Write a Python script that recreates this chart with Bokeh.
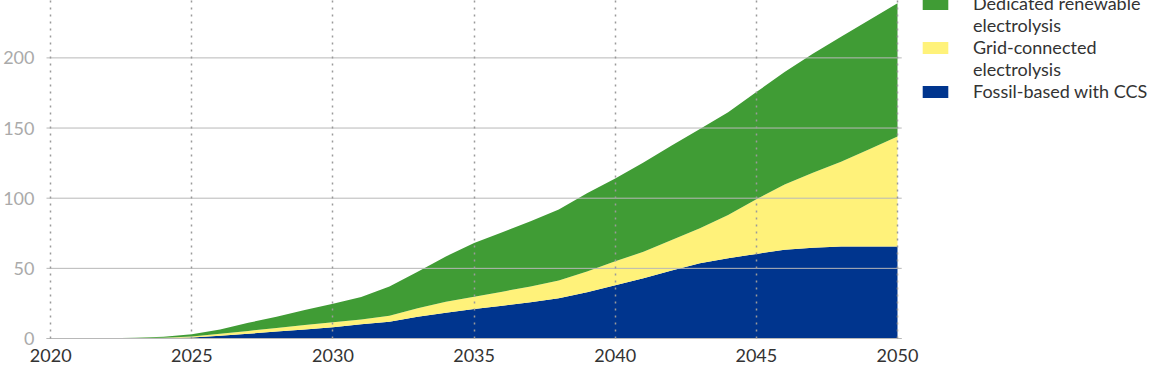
from bokeh.plotting import figure
from bokeh.models import ColumnDataSource, FixedTicker, Legend, LegendItem, Range1d
from bokeh.embed import file_html
from bokeh.resources import INLINE

years = list(range(2020, 2051))
fossil_ccs = [0, 0, 0.05, 0.2, 0.4, 0.8, 2.0, 3.4, 4.9, 6.5, 8.1, 10.2, 12.0, 15.5, 18.4, 21.0,
              23.4, 25.8, 28.7, 33.0, 38.0, 42.9, 48.4, 53.6, 57.2, 60.3, 63.2, 64.7, 65.6, 65.6, 65.6]
grid_connected = [0, 0, 0.05, 0.1, 0.2, 0.7, 1.4, 2.0, 2.6, 3.1, 3.4, 3.4, 4.2, 6.0, 7.8, 8.8,
                  10.0, 11.2, 12.6, 14.7, 17.0, 18.9, 21.8, 25.0, 30.8, 39.0, 46.5, 53.4, 60.4, 69.3, 78.4]
dedicated_renewable = [0, 0, 0.05, 0.2, 0.6, 1.6, 3.1, 5.8, 8.0, 10.7, 13.3, 16.0, 20.8, 26.0, 32.3, 38.2,
                       42.3, 46.6, 50.7, 55.8, 59.0, 63.7, 67.3, 70.8, 73.2, 76.3, 80.3, 84.9, 89.0, 92.1, 95.0]

series_names = ["fossil", "grid", "renew"]
series_labels = ["Fossil-based with CCS", "Grid-connected\nelectrolysis", "Dedicated renewable\nelectrolysis"]
series_colors = ["#00358E", "#FFF27A", "#409C35"]
x_ticks = [2020, 2025, 2030, 2035, 2040, 2045, 2050]
y_ticks = [0, 50, 100, 150, 200]

source = ColumnDataSource(dict(year=years, fossil=fossil_ccs, grid=grid_connected, renew=dedicated_renewable))

FONT = "Lato"

# layout: plot area spans 2019.85..2050.15 over 856 px; frame continues right to hold the legend
X0, X1 = 2019.85, 2050.15
PX_PER_YEAR = 856 / (X1 - X0)
FRAME_W = 1111
x_end = X0 + FRAME_W / PX_PER_YEAR

p = figure(width=1156, height=381, output_backend="svg", toolbar_location=None,
           x_range=Range1d(X0, x_end), y_range=Range1d(0, 252.3),
           min_border_left=37, min_border_right=0, min_border_top=0, min_border_bottom=27)
p.styles = {"margin-top": "-16px", "margin-bottom": "-8px"}
p.outline_line_color = None

renderers = p.varea_stack(series_names, x="year", color=series_colors, source=source)
# invisible renderer used for continuation lines of wrapped legend labels
blank = p.varea(x=[], y1=[], y2=[], fill_color=None, fill_alpha=0)

# vertical dotted grid
p.xgrid.ticker = FixedTicker(ticks=x_ticks)
p.xgrid.grid_line_color = "#9a9a9a"
p.xgrid.grid_line_dash = "2 5"
p.xgrid.grid_line_width = 1.5
p.xgrid.level = "overlay"
# horizontal grid limited to the plot area
p.ygrid.visible = False
p.segment(x0=X0, x1=X1, y0=y_ticks, y1=y_ticks, line_color="#b8b8b8", line_width=1, level="overlay")

# axes
p.xaxis.ticker = FixedTicker(ticks=x_ticks)
p.xaxis.bounds = (X0, X1)
p.xaxis.axis_line_color = "#cfcfcf"
p.xaxis.major_tick_line_color = None
p.xaxis.minor_tick_line_color = None
p.xaxis.major_label_text_font = FONT
p.xaxis.major_label_text_font_size = "18px"
p.xaxis.major_label_text_color = "#333333"
p.xaxis.major_label_standoff = 4

p.yaxis.ticker = FixedTicker(ticks=y_ticks)
p.yaxis.axis_line_color = None
p.yaxis.major_tick_line_color = None
p.yaxis.minor_tick_line_color = None
p.yaxis.major_label_text_font = FONT
p.yaxis.major_label_text_font_size = "18px"
p.yaxis.major_label_text_color = "#aaaaaa"
p.yaxis.major_label_standoff = 6

# legend: one row per text line, swatch beside the first line of each label
items = []
for i in [2, 1, 0]:
    lines = series_labels[i].split("\n")
    items.append(LegendItem(label=lines[0], renderers=[renderers[i]]))
    for extra in lines[1:]:
        items.append(LegendItem(label=extra, renderers=[blank]))

legend = Legend(items=items, location=(873, 236), orientation="vertical",
                glyph_width=32, glyph_height=15, label_standoff=22, spacing=0,
                padding=0, margin=0, border_line_color=None, background_fill_alpha=0,
                label_text_font=FONT, label_text_font_size="18px", label_text_color="#333333",
                label_height=22)
p.add_layout(legend, "center")

open("out.html", "w").write(file_html(p, INLINE))
